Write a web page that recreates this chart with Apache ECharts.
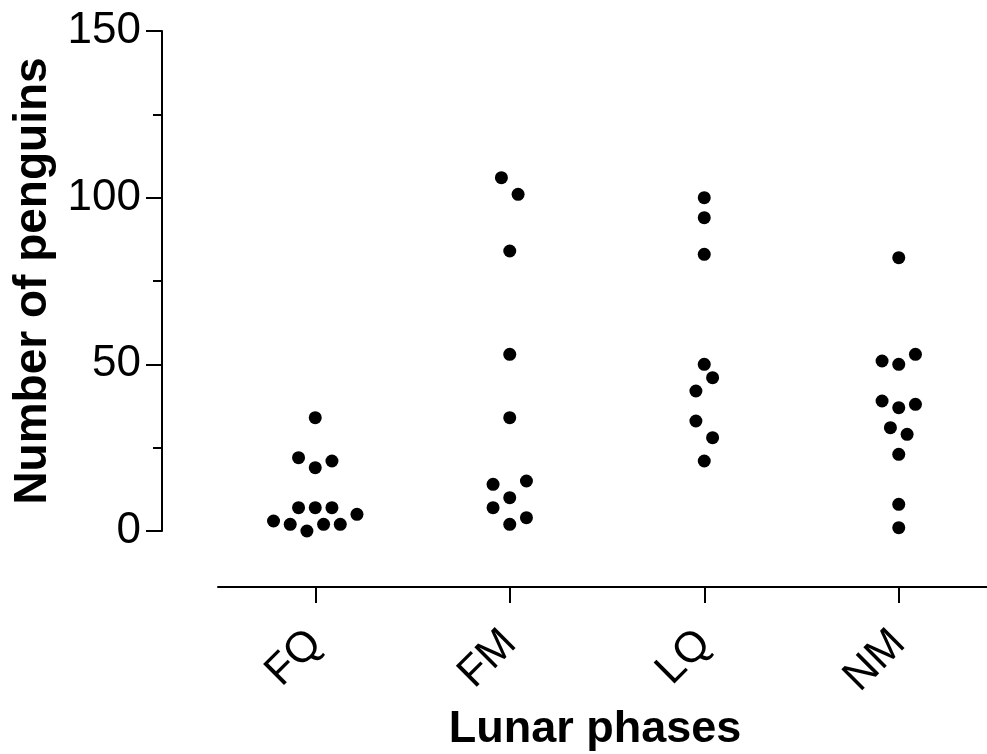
<!DOCTYPE html>
<html>
<head>
<meta charset="utf-8">
<script src="https://cdn.jsdelivr.net/npm/echarts@6/dist/echarts.min.js"></script>
<style>
html,body{margin:0;padding:0;background:#fff;}
#chart{width:987px;height:754px;}
</style>
</head>
<body>
<div id="chart"></div>
<script>
// Categories (lunar phases)
const categories = ['FQ', 'FM', 'LQ', 'NM'];

// Number of penguins per observation, per phase
const fqValues = [34, 22, 19, 21, 7, 7, 7, 5, 3, 2, 0, 2, 2];
const fmValues = [106, 101, 84, 53, 34, 14, 15, 10, 7, 4, 2];
const lqValues = [100, 94, 83, 50, 46, 42, 33, 28, 21];
const nmValues = [82, 51, 50, 53, 39, 37, 38, 31, 29, 23, 8, 1];

// Horizontal scatter slot of each point (beeswarm position, in half-dot steps)
const fqSlots = [0, -2, 0, 2, -2, 0, 2, 5, -5, -3, -1, 1, 3];
const fmSlots = [-1, 1, 0, 0, 0, -2, 2, 0, -2, 2, 0];
const lqSlots = [0, 0, 0, 0, 1, -1, -1, 1, 0];
const nmSlots = [0, -2, 0, 2, -2, 0, 2, -1, 1, 0, 0, 0];

// Y axis ticks
const yMin = 0, yMax = 150, yInterval = 50;

// Category positions on the x scale
const catPositions = categories.map(function (c, i) { return i + 1; });

const groups = [
  [fqValues, fqSlots],
  [fmValues, fmSlots],
  [lqValues, lqSlots],
  [nmValues, nmSlots]
];
const slotWidth = 0.0429; // in category units

const points = [];
groups.forEach(function (g, ci) {
  g[0].forEach(function (v, i) {
    points.push([catPositions[ci] + g[1][i] * slotWidth, v]);
  });
});

const FONT = 'Liberation Sans, Arial, sans-serif';
const chart = echarts.init(document.getElementById('chart'), null, {renderer: 'canvas'});
chart.setOption({
  backgroundColor: '#ffffff',
  animation: false,
  grid: {left: 218, top: 31, right: 0, height: 500, containLabel: false, outerBoundsMode: 'none'},
  xAxis: {
    type: 'value',
    min: 0.5, max: 4.4537,
    position: 'bottom',
    offset: 56,
    axisLine: {show: true, onZero: false, lineStyle: {color: '#000', width: 2}},
    axisTick: {show: true, customValues: catPositions, length: 16, lineStyle: {color: '#000', width: 2}},
    axisLabel: {
      customValues: catPositions,
      formatter: function (v) { return categories[Math.round(v) - 1] || ''; },
      rotate: 45, margin: 50, color: '#000', fontSize: 43, fontFamily: FONT
    },
    splitLine: {show: false},
    name: 'Lunar phases',
    nameLocation: 'middle',
    nameGap: 120,
    nameTextStyle: {color: '#000', fontSize: 45, fontWeight: 'bold', fontFamily: FONT, padding: [0, 15, 0, 0]}
  },
  yAxis: {
    type: 'value',
    min: yMin, max: yMax, interval: yInterval,
    position: 'left',
    offset: 56,
    axisLine: {show: true, lineStyle: {color: '#000', width: 2}},
    axisTick: {show: true, length: 16, lineStyle: {color: '#000', width: 2}},
    minorTick: {show: true, splitNumber: 2, length: 9, lineStyle: {color: '#000', width: 2}},
    axisLabel: {margin: 21, color: '#000', fontSize: 44, fontFamily: FONT},
    splitLine: {show: false},
    name: 'Number of penguins',
    nameLocation: 'middle',
    nameGap: 97,
    nameTextStyle: {color: '#000', fontSize: 46, fontWeight: 'bold', fontFamily: FONT}
  },
  series: [{
    type: 'scatter',
    symbol: 'circle',
    symbolSize: 13,
    itemStyle: {color: '#000', opacity: 1},
    data: points
  }]
});
</script>
</body>
</html>
